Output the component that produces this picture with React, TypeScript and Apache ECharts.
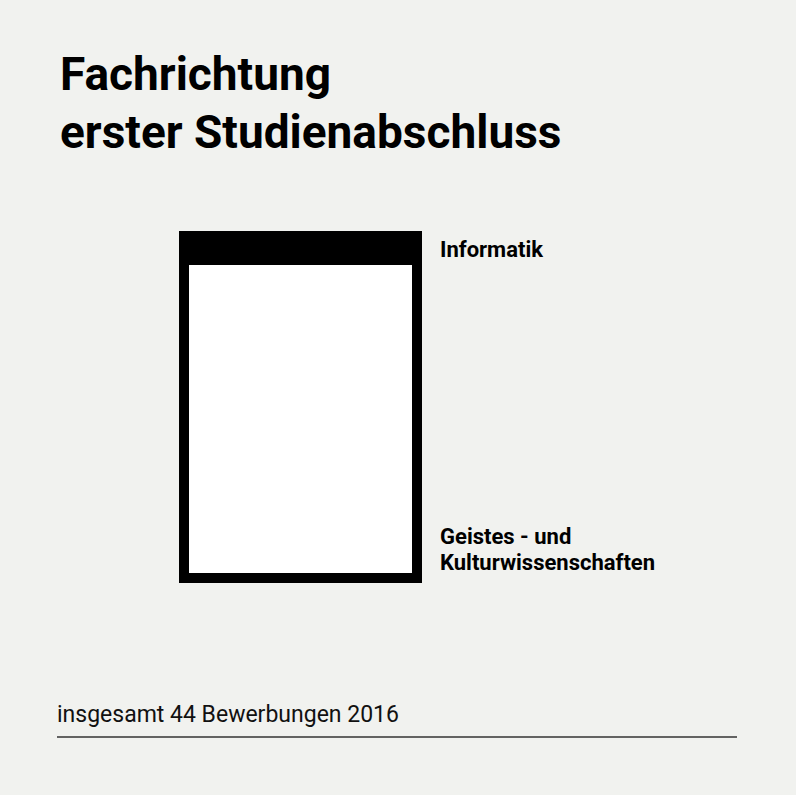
import React, { useEffect, useRef } from "react";
import * as echarts from "echarts";

const categories = ["2016"];
const geistesValues = [41];
const informatikValues = [3];
const seriesNames = ["Geistes - und\nKulturwissenschaften", "Informatik"];
const titleLines = ["Fachrichtung", "erster Studienabschluss"];
const footerText = "insgesamt 44 Bewerbungen 2016";
const total = 44;

export default function App() {
  const ref = useRef<HTMLDivElement>(null);
  useEffect(() => {
    document.body.style.margin = "0";
    if (!ref.current) return;
    const chart = echarts.init(ref.current, null, { renderer: "svg" });
    const font = "Roboto";
    chart.setOption({
      animation: false,
      backgroundColor: "#f1f2ef",
      grid: { left: 179, width: 243, top: 231, height: 352 },
      xAxis: { type: "category", data: categories, show: false },
      yAxis: { type: "value", min: 0, max: total, show: false },
      series: [
        {
          name: seriesNames[0],
          type: "bar",
          stack: "s",
          barWidth: "100%",
          data: geistesValues,
          itemStyle: { color: "#ffffff", borderColor: "#000000", borderWidth: 10 },
          label: {
            show: true,
            formatter: seriesNames[0],
            position: [261, 320],
            verticalAlign: "bottom",
            align: "left",
            fontFamily: font,
            fontWeight: "bold",
            fontSize: 22,
            lineHeight: 26,
            color: "#000",
          },
        },
        {
          name: seriesNames[1],
          type: "bar",
          stack: "s",
          barWidth: "100%",
          data: informatikValues,
          itemStyle: { color: "#000000", borderColor: "#000000", borderWidth: 10 },
          label: {
            show: true,
            formatter: seriesNames[1],
            position: "right",
            distance: 18,
            offset: [0, 6],
            fontFamily: font,
            fontWeight: "bold",
            fontSize: 22,
            color: "#000",
          },
        },
      ],
      graphic: [
        {
          type: "text",
          left: 60,
          top: 45,
          style: {
            text: titleLines.join("\n"),
            font: `bold 46px ${font}`,
            lineHeight: 58,
            fill: "#000",
          },
        },
        {
          type: "text",
          left: 57,
          top: 703,
          style: {
            text: footerText,
            font: `23px ${font}`,
            fill: "#111",
          },
        },
        {
          type: "line",
          shape: { x1: 57, y1: 737, x2: 737, y2: 737 },
          style: { stroke: "#333", lineWidth: 1.5 },
        },
      ],
    });
    return () => chart.dispose();
  }, []);
  return <div ref={ref} style={{ width: 796, height: 795 }} />;
}
